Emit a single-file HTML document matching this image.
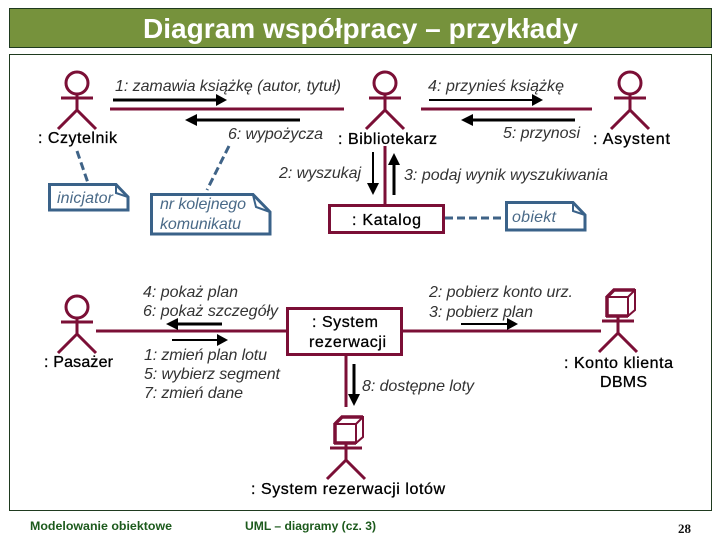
<!DOCTYPE html>
<html><head><meta charset="utf-8"><style>
html,body{margin:0;padding:0;background:#fff}
svg{display:block}
text{font-family:"Liberation Sans",sans-serif}
.i{font-style:italic;font-size:16px;fill:#333}
.b{font-size:16px;fill:#000;stroke:#000;stroke-width:.3}
.n{font-style:italic;font-size:16px;fill:#4a6a88}
.m{stroke:#7b0f36;stroke-width:3;fill:none}
.k{stroke:#000;fill:none}
.note{fill:#fff;stroke:#3a6289;stroke-width:3}
.d{stroke:#3f6387;stroke-width:3;stroke-dasharray:8 4;fill:none}
.f{font-weight:bold;font-size:12px;fill:#1c5a1c}
</style></head><body>
<svg width="720" height="540" viewBox="0 0 720 540" xmlns="http://www.w3.org/2000/svg">
<defs>
<g id="actor" class="m"><circle cx="77" cy="83" r="11"/><path d="M61 98H93M77 94V110M77 110L58 129M77 110L96 129"/></g>
<g id="cube" class="m"><path d="M61 448H93M77 444V460M77 460L58 479M77 460L96 479"/><path d="M66 424H87V443H66ZM66 424L73 417H94V437L87 443M87 424L94 417" stroke-width="2"/><path d="M66 423V444M65 443H87M66 424L73 417H94" stroke-width="3.500"/></g>
</defs>
<rect x="9.500" y="8.500" width="702" height="39" fill="#76923c" stroke="#1f3a1f"/>
<rect x="9.500" y="54.500" width="702" height="456" fill="#fff" stroke="#1f3a1f"/>
<text x="143" y="38" font-size="28" font-weight="bold" fill="#fff" textLength="435" lengthAdjust="spacingAndGlyphs">Diagram współpracy – przykłady</text>

<use href="#actor"/>
<use href="#actor" x="308"/>
<use href="#actor" x="553"/>
<use href="#actor" y="224"/>
<use href="#cube" x="269"/>
<use href="#cube" x="541" y="-127"/>

<g class="m">
<path d="M110 109H344M421 109H592M385 146V205M96 331H287M402 331H601M346 354V407"/>
<rect x="329.500" y="205.500" width="114" height="27"/>
<rect x="287.500" y="308.500" width="114" height="46"/>
</g>

<g class="k" stroke-width="2">
<path d="M113 100H217" stroke-width="3"/><path d="M429 100H534"/><path d="M172 340H220"/><path d="M461 324H510"/>
<path d="M197 120H300" stroke-width="3"/><path d="M473 120H575" stroke-width="3"/><path d="M178 324H222" stroke-width="3"/>
<path d="M373 152V185" stroke-width="2"/><path d="M394 163V195" stroke-width="3"/><path d="M354 364V396" stroke-width="3"/>
</g>
<g fill="#000">
<path d="M227 100L216 94V106Z"/><path d="M543 100L532 94V106Z"/><path d="M228 340L217 334V346Z"/><path d="M518 324L507 318V330Z"/>
<path d="M185 120L197 114V126Z"/><path d="M461 120L473 114V126Z"/><path d="M166 324L178 318V330Z"/>
<path d="M373 195L367 183H379Z"/><path d="M394 153L388 165H400Z"/><path d="M354 406L348 394H360Z"/>
</g>

<path class="d" d="M77 151L88 183M229 146L207 190M445 218H505"/>
<g class="note">
<path d="M49.500 184.500H116L128 197V210H49.500Z"/><path d="M116 185V193L128 197" stroke-width="2" fill="none"/>
<path d="M151.500 194.500H253L270 212V234H151.500Z"/><path d="M253 195L256 207L270 212" stroke-width="2" fill="none"/>
<path d="M506.500 202.500H573L585 215V230H506.500Z"/><path d="M573 203V211L585 215" stroke-width="2" fill="none"/>
</g>
<text class="n" x="57" y="203" textLength="56">inicjator</text>
<text class="n" x="160" y="209" textLength="86">nr kolejnego</text>
<text class="n" x="160" y="229" textLength="81">komunikatu</text>
<text class="n" x="512" y="222" textLength="44">obiekt</text>

<text class="i" x="115" y="91" textLength="226">1: zamawia książkę (autor, tytuł)</text>
<text class="i" x="428" y="91" textLength="136">4: przynieś książkę</text>
<text class="i" x="228" y="139" textLength="95">6: wypożycza</text>
<text class="i" x="503" y="138" textLength="77">5: przynosi</text>
<text class="i" x="279" y="178" textLength="82">2: wyszukaj</text>
<text class="i" x="404" y="180" textLength="204">3: podaj wynik wyszukiwania</text>
<text class="i" x="143" y="297" textLength="95">4: pokaż plan</text>
<text class="i" x="143" y="316" textLength="135">6: pokaż szczegóły</text>
<text class="i" x="144" y="360" textLength="123">1: zmień plan lotu</text>
<text class="i" x="144" y="379" textLength="136">5: wybierz segment</text>
<text class="i" x="144" y="398" textLength="99">7: zmień dane</text>
<text class="i" x="429" y="297" textLength="144">2: pobierz konto urz.</text>
<text class="i" x="429" y="317" textLength="104">3: pobierz plan</text>
<text class="i" x="362" y="391" textLength="112">8: dostępne loty</text>

<text class="b" x="38" y="143" textLength="79">: Czytelnik</text>
<text class="b" x="338" y="144" textLength="99">: Bibliotekarz</text>
<text class="b" x="593" y="144" textLength="77">: Asystent</text>
<text class="b" x="352" y="225" textLength="69">: Katalog</text>
<text class="b" x="44" y="367" textLength="69">: Pasażer</text>
<text class="b" x="312" y="327" textLength="66">: System</text>
<text class="b" x="309" y="347" textLength="77">rezerwacji</text>
<text class="b" x="564" y="368" textLength="109">: Konto klienta</text>
<text class="b" x="600" y="387" textLength="47">DBMS</text>
<text class="b" x="251" y="494" textLength="194">: System rezerwacji lotów</text>

<text class="f" x="30" y="530" textLength="142" lengthAdjust="spacingAndGlyphs">Modelowanie obiektowe</text>
<text class="f" x="245" y="530" textLength="131" lengthAdjust="spacingAndGlyphs">UML – diagramy (cz. 3)</text>
<text x="678" y="533" font-size="13" font-weight="bold" fill="#111" style="font-family:'Liberation Serif',serif">28</text>
</svg>
</body></html>
